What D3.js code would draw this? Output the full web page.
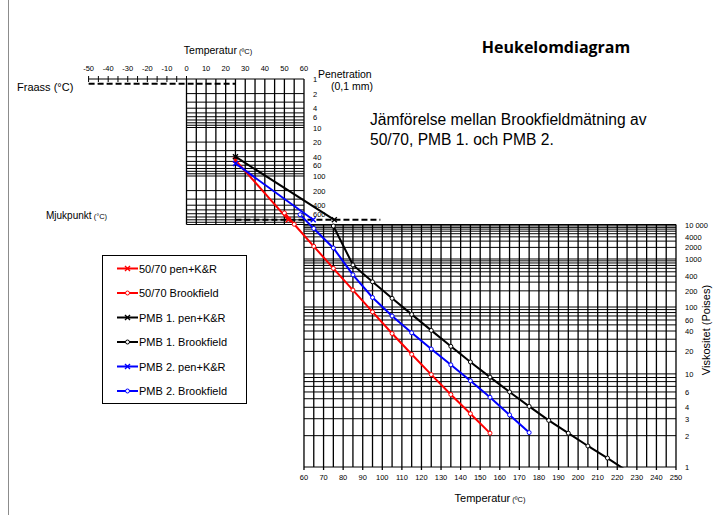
<!DOCTYPE html>
<html>
<head>
<meta charset="utf-8">
<script src="https://cdn.jsdelivr.net/npm/d3@7"></script>
<style>
  body { margin: 0; background: #fff; }
  svg text { font-family: "Liberation Sans", Arial, sans-serif; fill: #000; }
</style>
</head>
<body>
<div id="chart"></div>
<script>
/*
  Heukelomdiagram
*/

// tick labels
var tempTicksTop = [-50, -40, -30, -20, -10, 0, 10, 20, 30, 40, 50, 60];
var tempTicksBottom = [60, 70, 80, 90, 100, 110, 120, 130, 140, 150, 160, 170, 180, 190, 200, 210, 220, 230, 240, 250];
var penTicks = [1, 2, 4, 6, 10, 20, 40, 60, 100, 200, 400, 600];
var viscTicks = [10000, 4000, 2000, 1000, 400, 200, 100, 60, 40, 20, 10, 6, 4, 3, 2, 1];

// reference penetrations
var fraassPen = 1.25,
    mjukpunktPen = 800;

// series names
var seriesNames = ["50/70 pen+K&R", "50/70 Brookfield", "PMB 1. pen+K&R", "PMB 1. Brookfield", "PMB 2. pen+K&R", "PMB 2. Brookfield"];

// penetration at 25 C and softening point (pen 800)
var pen5070Temp = [25, 52],
    pen5070Value = [47, 800];
var penPmb1Temp = [25, 75.5],
    penPmb1Value = [40, 800];
var penPmb2Temp = [25, 64.7],
    penPmb2Value = [55, 800];

// Brookfield viscosity (Poises)
var bf5070Temp = [50, 55, 65, 75, 85, 95, 105, 115, 125, 135, 145, 155],
    bf5070Visc = [26700, 10200, 2140, 598, 207, 82, 36.6, 18.2, 9.8, 5.6, 3.4, 2.12];
var bfPmb1Temp = [75, 85, 95, 105, 115, 125, 135, 145, 155, 165, 175, 185, 195, 205, 215, 225],
    bfPmb1Visc = [8900, 717, 304, 144, 74.5, 40.9, 23.6, 14.3, 9.1, 6.0, 4.1, 2.88, 2.12, 1.58, 1.21, 0.92];
var bfPmb2Temp = [58, 65, 75, 85, 95, 105, 115, 125, 135, 145, 155, 165, 175],
    bfPmb2Visc = [22900, 7330, 1930, 429, 149, 70, 37.5, 21.6, 13.1, 8.2, 5.2, 3.3, 2.15];

var width = 723, height = 515;

var svg = d3.select("#chart").append("svg")
  .attr("width", width)
  .attr("height", height);

var x = d3.scaleLinear().domain([-50, 250]).range([88.6, 676]);
var yPen = d3.scaleLog().domain([1, 1000]).range([79, 224.5]);
var yVisc = d3.scalePow().exponent(-0.1438).domain([1, 10000]).range([467, 224.5]);

// chart frame (left edge)
svg.append("line")
  .attr("x1", 8.5).attr("x2", 8.5)
  .attr("y1", 0).attr("y2", height)
  .style("stroke", "#8c8c8c")
  .style("stroke-width", 1);

var grid = svg.append("g").style("stroke", "#000").style("fill", "none");

function logLines(maxDecade){
  var vals = [];
  for(var d = 0; d < maxDecade; d++){
    for(var k = 1; k < 10; k++) vals.push(k * Math.pow(10, d));
  }
  vals.push(Math.pow(10, maxDecade));
  return vals;
}

// top (penetration) grid
grid.selectAll(".penH")
  .data(logLines(3))
  .enter().append("line")
  .attr("x1", x(0)).attr("x2", x(60))
  .attr("y1", function(d){ return yPen(d); })
  .attr("y2", function(d){ return yPen(d); })
  .style("stroke-width", 1);

grid.selectAll(".penV")
  .data(d3.range(0, 61, 5))
  .enter().append("line")
  .attr("x1", function(d){ return x(d); })
  .attr("x2", function(d){ return x(d); })
  .attr("y1", yPen(1)).attr("y2", yPen(1000))
  .style("stroke-width", 1.3);

// bottom (viscosity) grid
grid.selectAll(".viscH")
  .data(logLines(4))
  .enter().append("line")
  .attr("x1", x(60)).attr("x2", x(250))
  .attr("y1", function(d){ return yVisc(d); })
  .attr("y2", function(d){ return yVisc(d); })
  .style("stroke-width", 1);

grid.selectAll(".viscV")
  .data(d3.range(60, 251, 5))
  .enter().append("line")
  .attr("x1", function(d){ return x(d); })
  .attr("x2", function(d){ return x(d); })
  .attr("y1", yVisc(10000))
  .attr("y2", function(d){ return yVisc(1) + (d % 10 === 0 ? 3 : 0); })
  .style("stroke-width", 1.3);

// Fraass temperature axis
grid.append("line")
  .attr("x1", x(-50)).attr("x2", x(0))
  .attr("y1", yPen(1)).attr("y2", yPen(1))
  .style("stroke-width", 1);

grid.selectAll(".fraassTick")
  .data(d3.range(-50, 1, 5))
  .enter().append("line")
  .attr("x1", function(d){ return x(d); })
  .attr("x2", function(d){ return x(d); })
  .attr("y1", yPen(1) - 3).attr("y2", yPen(1) + 3)
  .style("stroke-width", 1);

// dashed reference lines
grid.append("line")
  .attr("x1", x(-50)).attr("x2", x(25))
  .attr("y1", yPen(fraassPen)).attr("y2", yPen(fraassPen))
  .style("stroke-width", 2)
  .style("stroke-dasharray", "6,3");

grid.append("line")
  .attr("x1", x(25)).attr("x2", x(99))
  .attr("y1", yPen(mjukpunktPen)).attr("y2", yPen(mjukpunktPen))
  .style("stroke-width", 2)
  .style("stroke-dasharray", "6,3");

// tick labels
var tickFont = "7.5px";

svg.selectAll(".topTick")
  .data(tempTicksTop)
  .enter().append("text")
  .attr("x", function(d){ return x(d); })
  .attr("y", 71)
  .style("text-anchor", "middle")
  .style("font-size", tickFont)
  .text(function(d){ return d; });

svg.selectAll(".bottomTick")
  .data(tempTicksBottom)
  .enter().append("text")
  .attr("x", function(d){ return x(d); })
  .attr("y", 480)
  .style("text-anchor", "middle")
  .style("font-size", tickFont)
  .text(function(d){ return d; });

svg.selectAll(".penTick")
  .data(penTicks)
  .enter().append("text")
  .attr("x", 313)
  .attr("y", function(d){ return yPen(d) + 3; })
  .style("font-size", tickFont)
  .text(function(d){ return d; });

var spaceFormat = d3.formatLocale({decimal: ",", thousands: " ", grouping: [3], currency: ["", ""]}).format(",");

svg.selectAll(".viscTick")
  .data(viscTicks)
  .enter().append("text")
  .attr("x", 685)
  .attr("y", function(d){ return yVisc(d) + 3; })
  .style("font-size", tickFont)
  .text(function(d){ return d >= 10000 ? spaceFormat(d) : d; });

// axis titles
function unitLabel(xPos, yPos, main, unit, anchor, size){
  var t = svg.append("text")
    .attr("x", xPos).attr("y", yPos)
    .style("text-anchor", anchor || "start")
    .style("font-size", size || "10.5px");
  t.append("tspan").text(main);
  t.append("tspan").style("font-size", "7.5px").text(" " + unit);
  return t;
}

unitLabel(218, 54, "Temperatur", "(ºC)", "middle");
unitLabel(490, 502, "Temperatur", "(ºC)", "middle", "11px");
unitLabel(46, 219, "Mjukpunkt", "(°C)", "start", "10px");

svg.append("text")
  .attr("x", 17).attr("y", 91)
  .style("font-size", "11px")
  .text("Fraass (°C)");

svg.append("text")
  .attr("x", 318).attr("y", 78)
  .style("font-size", "10.5px")
  .text("Penetration");

svg.append("text")
  .attr("x", 331).attr("y", 90)
  .style("font-size", "10.5px")
  .text("(0,1 mm)");

svg.append("text")
  .attr("transform", "translate(710,330) rotate(-90)")
  .style("text-anchor", "middle")
  .style("font-size", "11px")
  .text("Viskositet (Poises)");

svg.append("text")
  .attr("x", 556).attr("y", 53)
  .style("text-anchor", "middle")
  .style("font-family", "'Open Sans', sans-serif")
  .style("font-weight", "bold")
  .style("font-size", "16px")
  .text("Heukelomdiagram");

svg.append("text")
  .attr("x", 370).attr("y", 125)
  .style("font-size", "15.6px")
  .text("Jämförelse mellan Brookfieldmätning av");

svg.append("text")
  .attr("x", 370).attr("y", 145)
  .style("font-size", "15.6px")
  .text("50/70, PMB 1. och PMB 2.");

// series
var series = [
  {name: seriesNames[0], color: "#ff0000", marker: "x", y: yPen, temps: pen5070Temp, vals: pen5070Value},
  {name: seriesNames[1], color: "#ff0000", marker: "o", y: yVisc, temps: bf5070Temp, vals: bf5070Visc},
  {name: seriesNames[2], color: "#000000", marker: "x", y: yPen, temps: penPmb1Temp, vals: penPmb1Value},
  {name: seriesNames[3], color: "#000000", marker: "o", y: yVisc, temps: bfPmb1Temp, vals: bfPmb1Visc},
  {name: seriesNames[4], color: "#0000ff", marker: "x", y: yPen, temps: penPmb2Temp, vals: penPmb2Value},
  {name: seriesNames[5], color: "#0000ff", marker: "o", y: yVisc, temps: bfPmb2Temp, vals: bfPmb2Visc}
];

svg.append("clipPath")
  .attr("id", "plotClip")
  .append("rect")
  .attr("x", 0).attr("y", 0)
  .attr("width", width).attr("height", yVisc(1) + 0.5);

var plot = svg.append("g").attr("clip-path", "url(#plotClip)");

function drawMarker(g, type, color, cx, cy){
  if(type === "x"){
    g.append("path")
      .attr("d", "M" + (cx - 2.5) + "," + (cy - 2.5) + "L" + (cx + 2.5) + "," + (cy + 2.5) +
                 "M" + (cx - 2.5) + "," + (cy + 2.5) + "L" + (cx + 2.5) + "," + (cy - 2.5))
      .style("stroke", color)
      .style("stroke-width", 1.4)
      .style("fill", "none");
  } else {
    g.append("circle")
      .attr("cx", cx).attr("cy", cy)
      .attr("r", 2)
      .style("fill", "#fff")
      .style("stroke", color)
      .style("stroke-width", 1);
  }
}

series.forEach(function(s){
  var pts = s.temps.map(function(t, i){ return [x(t), s.y(s.vals[i])]; });

  plot.append("path")
    .datum(pts)
    .attr("d", d3.line())
    .style("stroke", s.color)
    .style("stroke-width", 2)
    .style("fill", "none");

  pts.forEach(function(p){ drawMarker(plot, s.marker, s.color, p[0], p[1]); });
});

// legend
var legend = svg.append("g");

legend.append("rect")
  .attr("x", 102.5).attr("y", 255.5)
  .attr("width", 144).attr("height", 148)
  .style("fill", "#fff")
  .style("stroke", "#000")
  .style("stroke-width", 1);

series.forEach(function(s, i){
  var ly = 268.5 + i * 24.5;
  legend.append("line")
    .attr("x1", 117).attr("x2", 138)
    .attr("y1", ly).attr("y2", ly)
    .style("stroke", s.color)
    .style("stroke-width", 2);
  drawMarker(legend, s.marker, s.color, 127.5, ly);
  legend.append("text")
    .attr("x", 139).attr("y", ly + 4)
    .style("font-size", "11px")
    .text(s.name);
});
</script>
</body>
</html>
